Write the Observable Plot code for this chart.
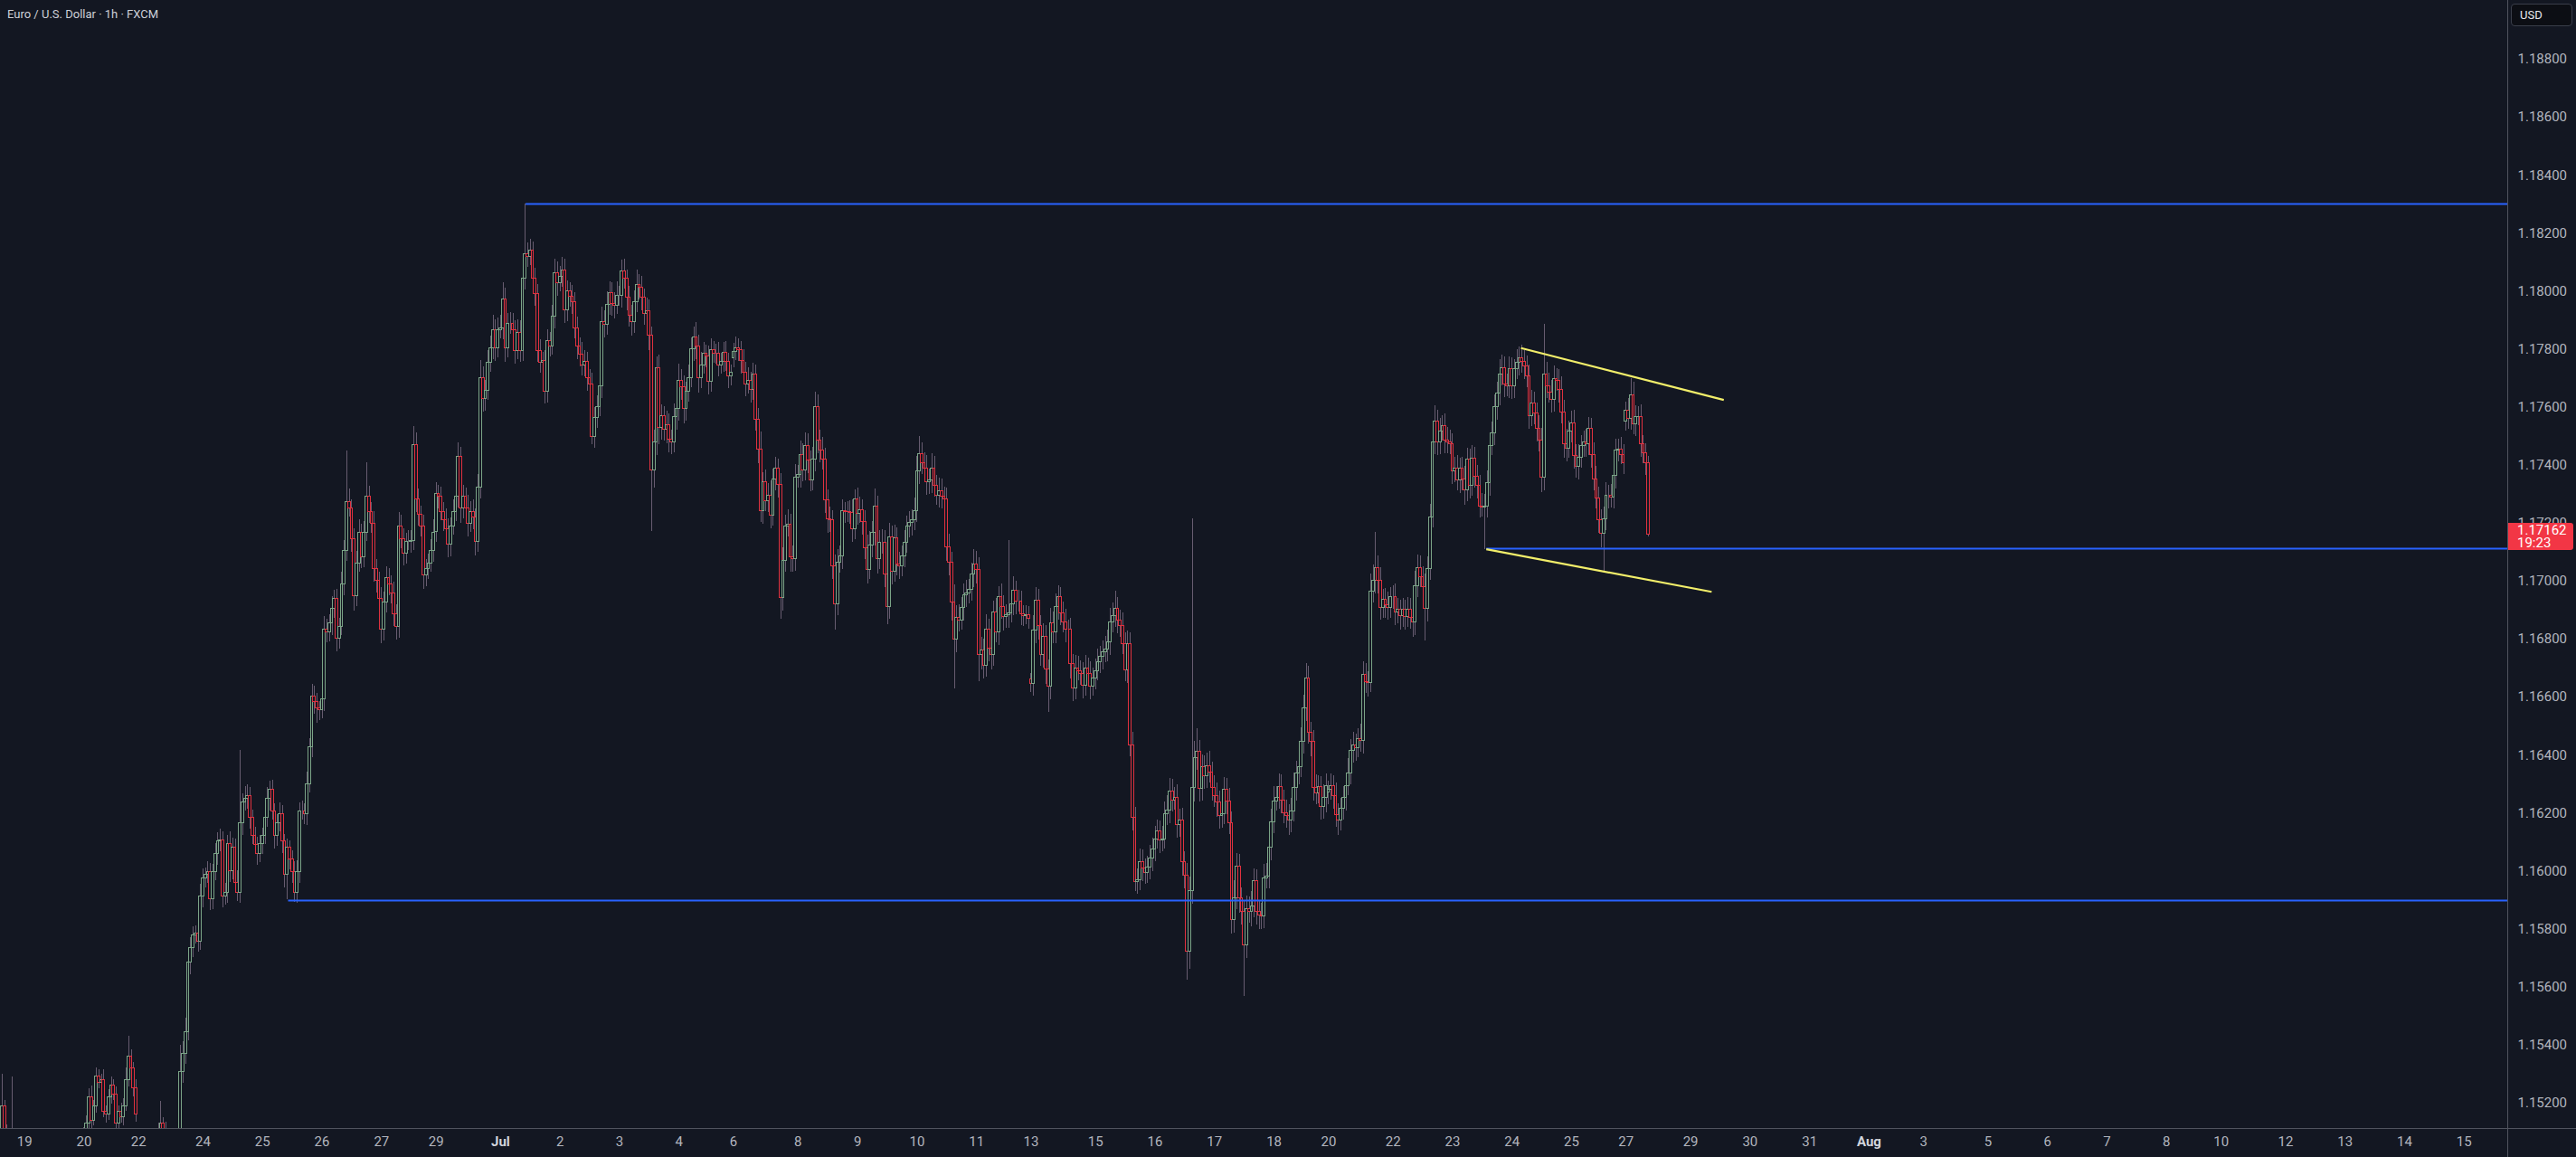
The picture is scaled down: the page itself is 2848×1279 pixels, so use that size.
<!DOCTYPE html>
<html>
<head>
<meta charset="utf-8">
<script src="https://cdn.jsdelivr.net/npm/d3@7"></script>
<script src="https://cdn.jsdelivr.net/npm/@observablehq/plot@0.6"></script>
<style>
  html, body { margin: 0; padding: 0; background: #131722; }
  #wrap { position: relative; width: 2848px; height: 1279px; overflow: hidden; background: #131722; font-family: Roboto, "Noto Sans", sans-serif; }
  #title { position: absolute; left: 8px; top: 8px; font-size: 13px; line-height: 16px; color: #cdd0d8; white-space: nowrap; }
  .ov { position: absolute; box-sizing: border-box; }
</style>
</head>
<body>
<div id="wrap">
  <div id="chart"></div>
  <div id="title">Euro / U.S. Dollar · 1h · FXCM</div>
</div>
<script>
// ---------- DATA (price = 1.1 + v / 100000) ----------
const weekStartHour = [62, 120, 240, 360, 480, 600, 720];
const weekOpen = [5000, 5000, 7170, 7770, 6660, 6270, 7549];

const closeW1 = [5020,5060,5090,5190,5110,5060,5040,5080,5010,4980,
 4950,4930,4900,4920,4880,4860,4890,4870,4850,4880,
 4900,4870,4840,4820,4860,4880,4900,4930,4960,4940,
 4970,5000,4990,5020,5040,5060,5100,5130,5220,5140,
 5190,5290,5270,5280,5170,5160,5220,5260,5230,5130,
 5170,5150,5190,5280,5360,5320,5250,5160];
const upW1 = [20,25,20,110,20,15,20,210,15,15,
 20,15,20,25,15,20,20,15,20,25,
 15,20,20,25,20,15,20,25,15,20,
 20,15,20,20,15,20,15,25,30,40,
 20,30,25,20,35,20,25,30,20,25,
 20,30,25,40,70,25,20,30];
const downW1 = [20,15,20,15,30,20,15,20,25,20,
 15,20,25,15,20,20,15,25,20,15,
 20,25,15,20,20,15,25,20,20,15,
 20,20,25,15,20,15,20,20,25,30,
 20,25,20,35,20,30,20,25,20,30,
 25,20,30,20,25,20,30,25];

const closeW2 = [4950,4900,4880,4920,4960,5000,5040,5070,5100,5130,
 5110,5080,5060,5040,5050,5070,5100,5308,5370,5444,
 5684,5736,5778,5785,5757,5913,5976,5987,5997,5903,
 5997,6060,6102,6105,5913,5924,6092,6000,6080,5960,
 5924,6164,6238,6248,6258,6185,6122,6091,6060,6092,
 6122,6185,6248,6279,6206,6122,6164,6196,6102,5987,
 6080,6040,5997,5924,5997,6206,6206,6196,6300,6426,
 6603,6582,6561,6555,6592,6833,6822,6854,6906,6938,
 6802,6843,6990,7104,7272,7251,7146,6948,7062,7167,
 7083,7167,7292,7240,7199,7041,7000,6938,6833,6927,
 7010,6990,6958,6885,6843,7188,7146,7094,7136,7136,
 7140,7470,7282,7230,7188,7021,7041,7062,7104,7167];
const upW2 = [20,25,20,20,25,20,25,20,30,77,
 20,25,20,15,20,25,30,92,40,50,
 40,35,30,25,30,40,30,25,35,30,
 25,35,30,40,30,35,30,45,35,30,
 40,251,30,45,40,30,25,30,25,30,
 25,30,40,30,35,25,30,40,30,25,
 30,25,30,35,40,30,35,25,40,30,
 40,35,30,25,30,45,35,30,40,30,
 35,30,40,35,177,45,30,35,40,45,
 30,40,115,35,30,40,35,30,40,35,
 40,35,30,40,35,50,40,35,30,40,
 35,63,40,35,30,40,35,30,40,45];
const downW2 = [25,20,30,20,25,20,20,25,20,25,
 25,20,25,20,25,20,25,30,40,35,
 30,40,35,30,35,30,40,35,30,40,
 35,30,40,35,40,30,35,40,30,35,
 30,35,40,30,35,40,30,35,40,30,
 35,30,35,40,30,45,35,30,40,45,
 87,35,40,31,35,40,30,35,40,30,
 35,40,50,35,30,40,35,30,40,35,
 45,35,30,40,35,30,45,50,35,30,
 40,35,30,40,35,45,40,35,50,40,
 35,40,35,40,45,40,35,40,35,30,
 40,35,45,40,35,50,40,35,30,40];

const closeW3 = [7300,7290,7240,7210,7180,7125,7188,7240,7292,7428,
 7250,7292,7250,7199,7240,7219,7136,7324,7700,7627,
 7658,7752,7804,7867,7804,7867,7873,7971,7804,7888,
 7888,7867,7794,7857,7794,8045,8128,8118,8139,8045,
 7992,7794,7752,7760,7655,7827,7810,7911,8061,8028,
 8050,8072,7935,8000,7980,7961,7872,7810,7780,7744,
 7755,7701,7677,7499,7563,7599,7671,7894,7883,7953,
 7994,7955,7950,7983,7983,8067,8044,7978,7916,7894,
 7961,8022,8011,7978,7922,7930,7846,7382,7480,7735,
 7530,7568,7523,7537,7487,7478,7565,7593,7690,7669,
 7593,7652,7699,7799,7842,7808,7699,7744,7783,7775,
 7688,7797,7783,7783,7744,7757,7788,7755,7705,7720];
const upW3 = [40,30,35,30,40,35,30,40,45,50,
 35,40,30,45,35,40,30,45,60,40,
 35,45,40,50,35,40,45,60,40,35,
 40,35,30,45,40,50,172,40,40,30,
 35,30,40,30,35,40,30,40,50,40,
 35,45,40,35,30,40,35,40,30,45,
 40,35,30,40,35,40,30,50,40,45,
 40,35,40,50,35,40,45,30,40,35,
 40,50,35,40,30,45,40,30,40,40,
 45,40,35,50,40,35,45,40,60,40,
 40,35,45,40,35,50,40,45,40,30,
 35,40,30,35,40,30,35,40,30,25];
const downW3 = [35,40,30,40,35,45,40,30,35,40,
 50,35,40,45,30,40,50,35,40,45,
 40,35,30,40,45,35,30,40,50,35,
 35,40,45,30,40,35,40,35,30,40,
 45,40,35,50,45,40,35,30,40,45,
 30,35,45,40,35,40,35,45,40,35,
 40,45,50,29,40,35,30,40,45,35,
 35,40,45,30,35,40,35,45,40,50,
 40,35,40,45,40,35,50,212,60,45,
 60,45,40,50,45,40,35,45,40,45,
 50,40,35,30,40,45,50,35,30,40,
 45,35,30,35,40,30,35,30,40,30];

const closeW4 = [7790,7802,7797,7760,7719,7677,7690,7660,7712,7557,
 7454,7242,7340,7276,7296,7225,7351,7387,7331,6942,
 7070,7189,7195,7081,7075,7356,7365,7434,7382,7467,
 7415,7348,7418,7601,7485,7450,7420,7279,7215,7209,
 7051,6921,7064,7086,7242,7240,7238,7235,7179,7281,
 7233,7245,7203,7114,7040,7122,7167,7258,7075,7133,
 7133,7022,6910,7151,7033,7148,7059,7050,7086,7133,
 7189,7200,7211,7242,7379,7437,7407,7389,7340,7348,
 7389,7329,7296,7311,7290,7281,7117,7064,6928,6799,
 6874,6865,6908,6950,6957,6970,7023,7059,7040,6745,
 6760,6709,6834,6768,6745,6891,6824,6945,6910,6878,
 6884,6890,6920,6966,6930,6930,6886,6880,6882,6870];
const upW4 = [30,40,35,30,40,35,45,30,40,35,
 40,60,35,45,40,50,35,40,35,40,
 45,40,50,35,40,45,35,50,40,45,
 40,35,45,51,40,35,45,40,35,40,
 35,40,45,35,40,30,35,40,45,35,
 40,45,35,40,45,50,40,60,35,40,
 45,40,35,50,40,45,35,40,35,40,
 35,40,35,45,50,62,40,35,45,40,
 50,40,35,45,40,35,40,45,35,60,
 40,45,35,40,45,35,40,50,45,40,
 45,40,50,35,45,40,50,35,45,40,
 35,250,40,50,35,40,35,30,35,30];
const downW4 = [35,30,40,45,35,40,30,45,35,40,
 50,40,45,35,40,45,35,40,45,73,
 45,40,35,50,45,40,35,45,40,35,
 45,40,35,40,45,40,35,45,50,40,
 45,91,40,35,45,40,35,40,45,35,
 40,35,45,40,50,35,40,45,50,35,
 40,45,60,40,45,35,40,45,35,40,
 35,40,45,35,40,45,40,35,45,40,
 45,40,35,45,40,35,50,45,65,170,
 45,40,35,45,40,35,40,45,50,93,
 50,45,40,45,50,40,35,45,40,50,
 40,45,35,40,45,35,40,35,30,35];

const closeW5 = [6645,6830,6932,6846,6746,6808,6694,6635,6855,6825,
 6910,6944,6888,6858,6832,6832,6713,6630,6700,6690,
 6680,6640,6700,6681,6637,6665,6690,6720,6740,6755,
 6763,6790,6857,6880,6904,6865,6845,6782,6692,6782,
 6433,6184,5961,5969,6032,6008,5993,6011,6043,6074,
 6110,6137,6106,6110,6197,6209,6275,6244,6252,6158,
 6173,6032,5985,5722,5930,6288,6389,6412,6283,6357,
 6326,6362,6340,6288,6260,6236,6189,6195,6279,6241,
 6165,5832,5906,6016,5906,5859,5744,5870,5859,5879,
 5964,5859,5848,5843,5974,5980,6080,6169,6241,6252,
 6291,6244,6200,6189,6173,6205,6288,6338,6357,6445,
 6562,6665,6477,6445,6288,6268,6290,6220,6252,6294];
const upW5 = [20,50,45,40,35,45,40,35,50,40,
 45,40,35,40,45,35,40,35,45,40,
 35,40,45,35,40,35,40,45,35,40,
 45,40,50,45,60,40,35,45,40,45,
 40,45,35,40,45,40,35,40,45,40,
 45,40,35,45,40,50,45,40,35,45,
 40,45,35,40,50,927,60,80,40,45,
 40,45,50,35,40,45,40,35,45,40,
 45,40,60,45,40,35,40,45,40,50,
 45,40,35,40,50,45,40,45,50,40,
 45,40,35,45,40,45,50,40,45,50,
 45,51,40,35,40,45,40,35,45,40];
const downW5 = [30,40,45,50,40,45,50,89,45,40,
 40,45,40,35,45,40,50,45,40,35,
 40,45,35,40,45,35,40,35,40,45,
 35,40,45,35,40,45,40,35,40,45,
 40,45,31,40,35,45,40,35,40,45,
 40,35,45,40,35,40,45,40,35,45,
 40,50,45,99,60,45,50,40,45,40,
 45,40,35,45,40,50,45,40,35,45,
 40,50,45,40,50,45,176,45,40,50,
 40,45,50,45,40,35,40,45,40,35,
 40,45,35,40,50,40,35,45,40,35,
 40,45,40,50,45,40,35,45,40,50];

const closeW6 = [6280,6294,6260,6192,6173,6216,6252,6294,6338,6414,
 6433,6425,6456,6450,6676,6653,6650,6964,7002,7046,
 7002,6907,6936,6917,6907,6944,6944,6892,6900,6881,
 6900,6876,6900,6873,6857,6983,7046,7014,6980,6904,
 7043,7219,7478,7549,7478,7517,7536,7486,7480,7473,
 7379,7388,7348,7388,7352,7313,7420,7329,7423,7360,
 7330,7258,7255,7258,7337,7467,7509,7599,7646,7714,
 7734,7678,7671,7730,7671,7730,7753,7769,7756,7741,
 7706,7568,7612,7580,7525,7486,7357,7714,7671,7651,
 7624,7698,7690,7659,7583,7473,7458,7517,7545,7431,
 7395,7426,7467,7478,7473,7525,7436,7352,7285,7211,
 7164,7215,7294,7294,7289,7363,7451,7455,7436,7407];
const upW6 = [30,40,35,45,40,35,40,45,50,40,
 45,40,35,50,45,40,35,60,55,122,
 40,45,35,40,45,35,40,45,40,35,
 40,35,45,40,35,50,45,40,35,45,
 40,45,50,55,40,45,35,40,45,40,
 35,40,45,35,40,45,40,35,45,40,
 40,35,45,40,45,35,40,45,40,50,
 45,40,35,45,40,35,45,40,45,40,
 35,40,45,40,35,45,40,173,40,45,
 40,45,35,40,45,40,50,35,40,45,
 40,45,35,40,45,40,35,40,45,40,
 35,40,45,35,40,45,40,35,40,35];
const downW6 = [40,35,45,40,50,35,40,45,35,40,
 40,45,35,40,45,40,50,35,40,45,
 45,40,35,45,40,35,40,45,40,50,
 40,45,35,40,50,45,40,35,45,110,
 45,40,35,40,45,40,35,45,40,35,
 45,40,35,45,40,50,40,45,35,40,
 45,40,35,145,40,45,35,40,45,40,
 40,45,35,40,45,40,35,45,40,45,
 40,45,35,40,45,40,50,45,40,35,
 45,40,35,45,40,50,45,35,40,45,
 40,45,35,40,45,40,45,40,35,45,
 50,134,40,45,35,40,45,40,35,40];

const closeW7 = [7589,7560,7640,7540,7565,7567,7472,7440,7406,7162];
const upW7 = [30,40,60,45,40,35,40,30,35,25];
const downW7 = [30,35,40,35,40,30,45,35,40,10];

// horizontal levels (blue) and channel lines (yellow)
const levelPrices = [1.18301, 1.15898, 1.17112];
const levelStartHours = [276.1, 180.3, 663.6];
const trendStartHours = [677.6, 663.6];
const trendStartPrices = [1.17804, 1.17110];
const trendEndHours = [759.4, 754.5];
const trendEndPrices = [1.17625, 1.16963];

// axis ticks
const yTickValues = [1.152,1.154,1.156,1.158,1.160,1.162,1.164,1.166,1.168,1.170,1.172,1.174,1.176,1.178,1.180,1.182,1.184,1.186,1.188];
const xTickHours = [74,98,120,146,170,194,218,240,266,290,314,338,360,386,410,434,458,480,506,530,554,578,600,626,650,674,698,720,746,770,794,818,840,866,890,914,938,960,986,1010,1034,1058];
const xTickLabels = ["19","20","22","24","25","26","27","29","Jul","2","3","4","6","8","9","10","11","13","15","16","17","18","20","22","23","24","25","27","29","30","31","Aug","3","5","6","7","8","10","12","13","14","15"];
const monthLabels = ["Jul", "Aug"];

const lastPrice = 1.17162;
const lastPriceText = "1.17162";
const countdownText = "19:23";
const currencyText = "USD";

// ---------- BUILD ----------
const BG = "#131722", UP = "#7ba487", DOWN = "#e0313f", WICK = "#675c70";
const toPrice = v => 1.1 + v / 100000;
const weeks = [[closeW1, upW1, downW1],[closeW2, upW2, downW2],[closeW3, upW3, downW3],[closeW4, upW4, downW4],[closeW5, upW5, downW5],[closeW6, upW6, downW6],[closeW7, upW7, downW7]];
const candles = [];
weeks.forEach(([cl, up, dn], k) => {
  let prev = weekOpen[k];
  cl.forEach((c, i) => {
    const o = prev;
    candles.push({
      h: weekStartHour[k] + i,
      open: toPrice(o), close: toPrice(c),
      high: toPrice(Math.max(o, c) + up[i]),
      low: toPrice(Math.min(o, c) - dn[i])
    });
    prev = c;
  });
});

const X_MIN = 64.28, X_MAX = 1075.6;
const Y_MIN = 1.15112, Y_MAX = 1.19003;
const levels = levelPrices.map((p, i) => ({h1: levelStartHours[i], h2: X_MAX, p}));
const trends = trendStartHours.map((h, i) => ({h1: h, p1: trendStartPrices[i], h2: trendEndHours[i], p2: trendEndPrices[i]}));
const labelOf = new Map(xTickHours.map((h, i) => [h, xTickLabels[i]]));
const dayHours = xTickHours.filter((h, i) => !monthLabels.includes(xTickLabels[i]));
const monthHours = xTickHours.filter((h, i) => monthLabels.includes(xTickLabels[i]));
const halfBody = 0.5;

const plot = Plot.plot({
  width: 2848, height: 1279,
  marginLeft: 0, marginRight: 76, marginTop: 0, marginBottom: 32,
  style: {background: BG, color: "#b2b5be", fontFamily: "Roboto, 'Noto Sans', sans-serif", fontSize: "15px"},
  x: {domain: [X_MIN, X_MAX]},
  y: {domain: [Y_MIN, Y_MAX]},
  marks: [
    Plot.ruleX(candles, {x: "h", y1: "low", y2: "high", stroke: WICK, strokeWidth: 1, clip: true, shapeRendering: "crispEdges"}),
    Plot.rect(candles, {x1: d => d.h - halfBody, x2: d => d.h + halfBody, y1: "open", y2: "close",
      fill: BG, stroke: d => d.close >= d.open ? UP : DOWN, strokeWidth: 1, clip: true, shapeRendering: "crispEdges"}),
    Plot.link(levels, {x1: "h1", x2: "h2", y1: "p", y2: "p", stroke: "#2962ff", strokeWidth: 2, clip: true}),
    Plot.link(trends, {x1: "h1", y1: "p1", x2: "h2", y2: "p2", stroke: "#f2ee6a", strokeWidth: 2.2, clip: true}),
    Plot.axisY({anchor: "right", ticks: yTickValues, tickFormat: d => d.toFixed(5), tickSize: 0, tickPadding: 11, fontSize: 15, color: "#b2b5be"}),
    Plot.axisX({anchor: "bottom", ticks: dayHours, tickFormat: h => labelOf.get(h), tickSize: 0, tickPadding: 9, fontSize: 15, color: "#b2b5be"}),
    Plot.axisX({anchor: "bottom", ticks: monthHours, tickFormat: h => labelOf.get(h), tickSize: 0, tickPadding: 9, fontSize: 15, fontWeight: "bold", color: "#d1d4dc"})
  ]
});
document.getElementById("chart").appendChild(plot);

// overlays positioned through the plot's own scales
const wrap = document.getElementById("wrap");
const sx = plot.scale("x"), sy = plot.scale("y");
const xEdge = sx.apply(X_MAX), yEdge = sy.apply(Y_MIN);
function ov(css, html) { const d = document.createElement("div"); d.className = "ov"; Object.assign(d.style, css); if (html) d.innerHTML = html; wrap.appendChild(d); return d; }
ov({left: xEdge + "px", top: "0px", width: "1px", height: "1279px", background: "#50535e"});
ov({left: "0px", top: yEdge + "px", width: "2848px", height: "1px", background: "#50535e"});
const yp = sy.apply(lastPrice);
ov({left: (xEdge + 1) + "px", top: (yp - 12) + "px", width: "72px", height: "30px", background: "#f23645", borderRadius: "0 3px 3px 0",
   color: "#ffffff", fontSize: "15px", lineHeight: "14px", paddingLeft: "10px", paddingTop: "1px"},
   lastPriceText + "<br>" + countdownText);
ov({left: "2776px", top: "4px", width: "68px", height: "25px", background: "#0c0e14", border: "1px solid #3a3e4a", borderRadius: "4px",
   color: "#e6e8ee", fontSize: "13px", lineHeight: "23px", paddingLeft: "9px"}, currencyText);
</script>
</body>
</html>
